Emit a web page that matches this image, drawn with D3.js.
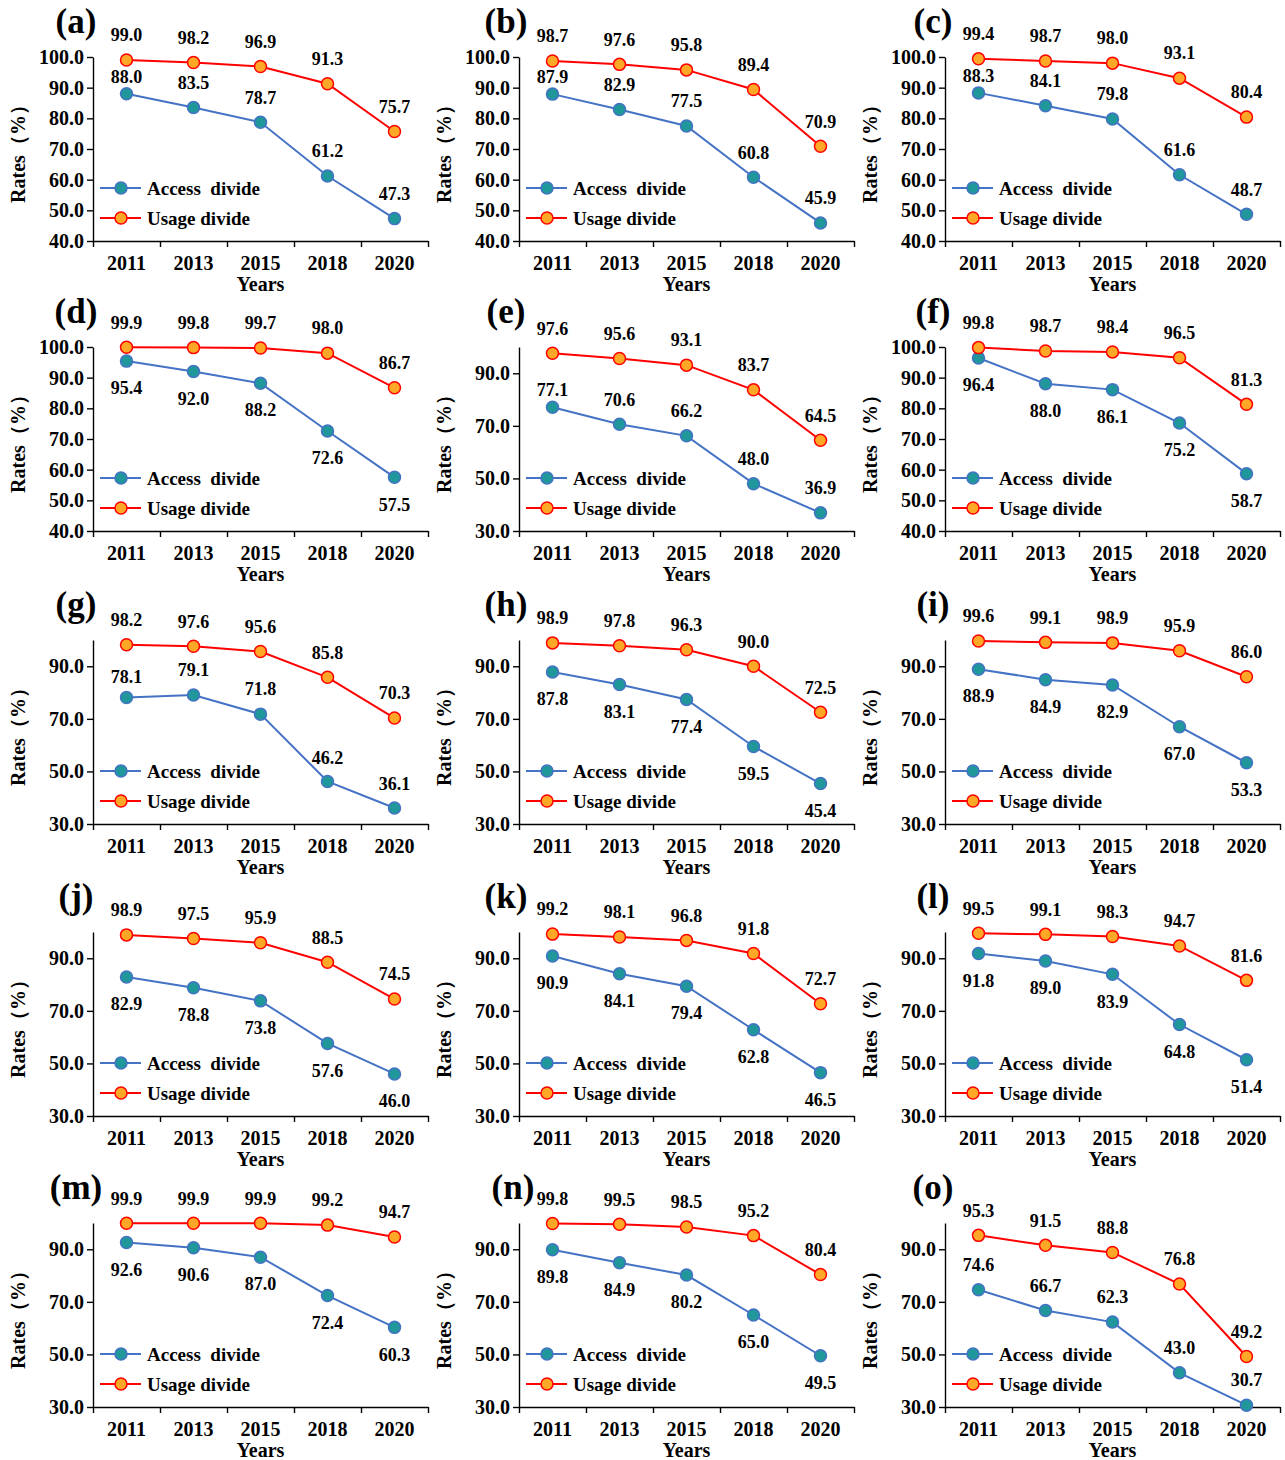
<!DOCTYPE html>
<html>
<head>
<meta charset="utf-8">
<script src="https://cdn.jsdelivr.net/npm/d3@7/dist/d3.min.js"></script>
<style>
  html, body { margin: 0; padding: 0; background: #fff; }
  svg text { font-family: "Liberation Serif", "Times New Roman", serif; font-weight: bold; fill: #000; }
</style>
</head>
<body>
<svg id="chart" width="1285" height="1460"></svg>
<script>
// ---------------- DATA ----------------
const years = ["2011", "2013", "2015", "2018", "2020"];
const panelLetters = ["(a)","(b)","(c)","(d)","(e)","(f)","(g)","(h)","(i)","(j)","(k)","(l)","(m)","(n)","(o)"];
const seriesNames = ["Access  divide", "Usage divide"];

const accessDivide = [
  [88.0, 83.5, 78.7, 61.2, 47.3],
  [87.9, 82.9, 77.5, 60.8, 45.9],
  [88.3, 84.1, 79.8, 61.6, 48.7],
  [95.4, 92.0, 88.2, 72.6, 57.5],
  [77.1, 70.6, 66.2, 48.0, 36.9],
  [96.4, 88.0, 86.1, 75.2, 58.7],
  [78.1, 79.1, 71.8, 46.2, 36.1],
  [87.8, 83.1, 77.4, 59.5, 45.4],
  [88.9, 84.9, 82.9, 67.0, 53.3],
  [82.9, 78.8, 73.8, 57.6, 46.0],
  [90.9, 84.1, 79.4, 62.8, 46.5],
  [91.8, 89.0, 83.9, 64.8, 51.4],
  [92.6, 90.6, 87.0, 72.4, 60.3],
  [89.8, 84.9, 80.2, 65.0, 49.5],
  [74.6, 66.7, 62.3, 43.0, 30.7]
];
const usageDivide = [
  [99.0, 98.2, 96.9, 91.3, 75.7],
  [98.7, 97.6, 95.8, 89.4, 70.9],
  [99.4, 98.7, 98.0, 93.1, 80.4],
  [99.9, 99.8, 99.7, 98.0, 86.7],
  [97.6, 95.6, 93.1, 83.7, 64.5],
  [99.8, 98.7, 98.4, 96.5, 81.3],
  [98.2, 97.6, 95.6, 85.8, 70.3],
  [98.9, 97.8, 96.3, 90.0, 72.5],
  [99.6, 99.1, 98.9, 95.9, 86.0],
  [98.9, 97.5, 95.9, 88.5, 74.5],
  [99.2, 98.1, 96.8, 91.8, 72.7],
  [99.5, 99.1, 98.3, 94.7, 81.6],
  [99.9, 99.9, 99.9, 99.2, 94.7],
  [99.8, 99.5, 98.5, 95.2, 80.4],
  [95.3, 91.5, 88.8, 76.8, 49.2]
];
// y-axis tick labels per panel (first value = axis minimum, axis max = 100)
const ticks40 = [40, 50, 60, 70, 80, 90, 100];
const ticks30 = [30, 50, 70, 90];
const panelTicks = [ticks40, ticks40, ticks40, ticks40, ticks30, ticks40,
                    ticks30, ticks30, ticks30, ticks30, ticks30, ticks30,
                    ticks30, ticks30, ticks30];

// ---------------- LAYOUT (not data) ----------------
const colX = [93, 519, 945];
const rowY = [241, 531, 824, 1116, 1407];
const plotW = 335, plotH = 184;
const letterX = [76, 506, 933];
// label vertical offsets (px) for access series labels per panel
const A_UP = [-17, -25, -25, -25, -25];
const A_DN = [27, 27, 27, 27, 27];
const accessLabelDy = [A_UP, A_UP, A_UP, A_DN, A_UP, A_DN,
                       [-21, -25, -25, -24, -24], A_DN, A_DN, A_DN, A_DN, A_DN,
                       A_DN, A_DN, [-25, -25, -25, -25, -25]];
const usageLabelDy = -25;

const colors = {
  accessLine: "#4472C4", accessFill: "#1F979B",
  usageLine: "#FF0000", usageFill: "#FFA726"
};

const svg = d3.select("#chart");

panelLetters.forEach((letter, i) => {
  const col = i % 3, row = Math.floor(i / 3);
  const x0 = colX[col], yBase = rowY[row];
  const tv = panelTicks[i];
  const g = svg.append("g");

  const x = d3.scaleBand().domain(years).range([x0, x0 + plotW]).padding(0);
  const y = d3.scaleLinear().domain([tv[0], 100]).range([yBase, yBase - plotH]);
  const cx = d => x(d) + x.bandwidth() / 2;

  // y axis
  const yAxis = g.append("g").attr("transform", `translate(${x0},0)`)
    .call(d3.axisLeft(y).tickValues(tv).tickSize(6).tickSizeOuter(0).tickPadding(3)
      .tickFormat(d3.format(".1f")));
  yAxis.selectAll("text").style("font-size", "20px");
  yAxis.selectAll("path, line").attr("stroke", "#000").attr("stroke-width", 1.4);

  // x axis boundary ticks
  const xb = d3.scaleLinear().domain([0, years.length]).range([x0, x0 + plotW]);
  const xAxisB = g.append("g").attr("transform", `translate(0,${yBase})`)
    .call(d3.axisBottom(xb).tickValues(d3.range(years.length + 1)).tickSize(6).tickSizeOuter(0).tickFormat(""));
  xAxisB.selectAll("path, line").attr("stroke", "#000").attr("stroke-width", 1.4);
  // x axis labels
  const xAxis = g.append("g").attr("transform", `translate(0,${yBase})`)
    .call(d3.axisBottom(x).tickSize(0).tickPadding(15));
  xAxis.select("path").remove();
  xAxis.selectAll("text").style("font-size", "20px");

  // axis titles
  g.append("text").attr("x", x0 + plotW / 2).attr("y", yBase + 43).attr("dy", "0.35em")
    .attr("text-anchor", "middle").style("font-size", "20px").text("Years");
  g.append("text").attr("transform", `translate(${x0 - 75},${yBase - plotH / 2}) rotate(-90)`)
    .attr("dy", "0.35em").attr("text-anchor", "middle").style("font-size", "20px").text("Rates（%）");

  // panel letter
  g.append("text").attr("x", letterX[col] + (i === 13 ? 7 : 0)).attr("y", yBase - plotH - 24)
    .attr("text-anchor", "middle").style("font-size", "35px").text(letter);

  const series = [
    { vals: accessDivide[i], line: colors.accessLine, fill: colors.accessFill, dy: accessLabelDy[i] },
    { vals: usageDivide[i], line: colors.usageLine, fill: colors.usageFill, dy: years.map(() => usageLabelDy) }
  ];

  series.forEach(s => {
    const pts = years.map((yr, k) => ({ yr, v: s.vals[k], dy: s.dy[k] }));
    g.append("path").datum(pts)
      .attr("fill", "none").attr("stroke", s.line).attr("stroke-width", 2)
      .attr("d", d3.line().x(d => cx(d.yr)).y(d => y(d.v)));
    g.selectAll(null).data(pts).enter().append("circle")
      .attr("cx", d => cx(d.yr)).attr("cy", d => y(d.v)).attr("r", 6)
      .attr("fill", s.fill).attr("stroke", s.line).attr("stroke-width", 1.5);
    g.selectAll(null).data(pts).enter().append("text")
      .attr("x", d => cx(d.yr)).attr("y", d => y(d.v) + d.dy).attr("dy", "0.35em")
      .attr("text-anchor", "middle").style("font-size", "18px")
      .text(d => d3.format(".1f")(d.v));
  });

  // legend
  const leg = [
    { name: seriesNames[0], line: colors.accessLine, fill: colors.accessFill, yy: yBase - 53 },
    { name: seriesNames[1], line: colors.usageLine, fill: colors.usageFill, yy: yBase - 23 }
  ];
  leg.forEach(l => {
    g.append("line").attr("x1", x0 + 7).attr("x2", x0 + 48).attr("y1", l.yy).attr("y2", l.yy)
      .attr("stroke", l.line).attr("stroke-width", 2);
    g.append("circle").attr("cx", x0 + 28).attr("cy", l.yy).attr("r", 6)
      .attr("fill", l.fill).attr("stroke", l.line).attr("stroke-width", 1.5);
    g.append("text").attr("x", x0 + 54).attr("y", l.yy).attr("dy", "0.35em")
      .style("font-size", "19px").style("white-space", "pre").attr("xml:space", "preserve").text(l.name);
  });
});
</script>
</body>
</html>
